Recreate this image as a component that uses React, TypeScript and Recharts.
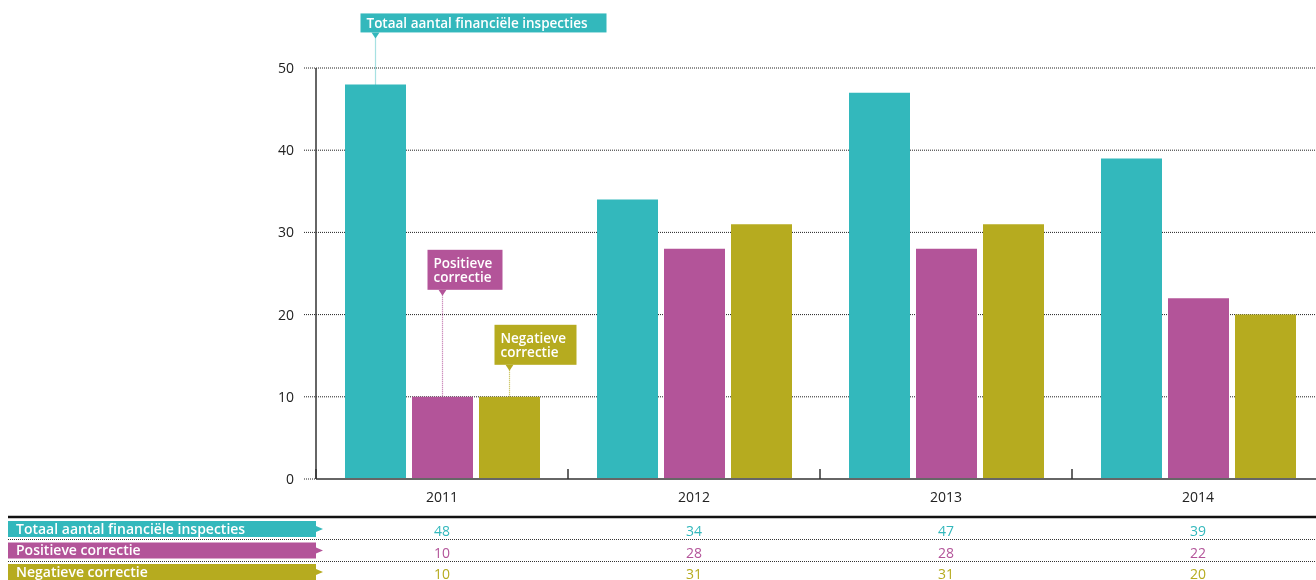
import React from 'react';
import { BarChart, Bar, XAxis, YAxis, CartesianGrid } from 'recharts';

const years = ['2011', '2012', '2013', '2014'];
const totaal = [48, 34, 47, 39];
const positief = [10, 28, 28, 22];
const negatief = [10, 31, 31, 20];
const seriesNames = ['Totaal aantal financiële inspecties', 'Positieve correctie', 'Negatieve correctie'];
const yTicks = [0, 10, 20, 30, 40, 50];

const TEAL = '#33b8bc';
const MAG = '#b35499';
const OLI = '#b6ab1f';
const FONT = '"Open Sans", "Noto Sans", sans-serif';

const data = years.map((y, i) => ({ year: y, totaal: totaal[i], positief: positief[i], negatief: negatief[i] }));

const rows = [totaal, positief, negatief];
const rowColors = [TEAL, MAG, OLI];

const XTick = (props: any) => {
  const { x, y, payload } = props;
  const half = payload && payload.offset ? payload.offset : 126;
  const i = years.indexOf(payload.value);
  return (
    <g>
      <line x1={x - half} x2={x - half} y1={y - 10} y2={y} stroke="#333" strokeWidth={1.5} />
      <text x={x} y={y + 23} textAnchor="middle" fill="#222" fontSize={14} fontFamily={FONT}>{payload.value}</text>
      {i === 0 && (
        <g>
          <line x1={0} x2={1316} y1={y + 38} y2={y + 38} stroke="#111" strokeWidth={2.5} />
          <line x1={0} x2={1316} y1={y + 60.5} y2={y + 60.5} stroke="#333" strokeWidth={1} strokeDasharray="1 1" />
          <line x1={0} x2={1316} y1={y + 82.5} y2={y + 82.5} stroke="#333" strokeWidth={1} strokeDasharray="1 1" />
          {seriesNames.map((name, k) => {
            const top = y + 42 + k * 21.5;
            return (
              <g key={name}>
                <rect x={0} y={top} width={308} height={16} fill={rowColors[k]} />
                <polygon points={`308,${top + 5} 315,${top + 8} 308,${top + 11}`} fill={rowColors[k]} />
                <text x={8} y={top + 12.5} fill="#fff" fontSize={14} fontWeight={600} fontFamily={FONT}>{name}</text>
              </g>
            );
          })}
        </g>
      )}
      {rows.map((r, k) => (
        <text key={k} x={x} y={y + 57 + k * 21.5} textAnchor="middle" fill={rowColors[k]} fontSize={14} fontFamily={FONT}>
          {r[i]}
        </text>
      ))}
    </g>
  );
};

const makeCallout = (color: string, lines: string[], width: number, above: number, height: number) => (props: any) => {
  const { x, y, width: bw, index } = props;
  if (index !== 0) return <g />;
  const cx = x + bw / 2;
  const top = y - above;
  const left = cx - 15;
  const bottom = top + height;
  return (
    <g>
      <line x1={cx} x2={cx} y1={bottom + 5} y2={y} stroke={color} strokeOpacity={0.85} strokeWidth={1.2} strokeDasharray="1 1" />
      <rect x={left} y={top} width={width} height={height} fill={color} />
      <polygon points={`${cx - 4},${bottom} ${cx + 4},${bottom} ${cx},${bottom + 6}`} fill={color} />
      {lines.map((l, k) => (
        <text key={k} x={left + 6} y={top + (lines.length === 1 ? 14.5 : 18 + k * 14.5)} fill="#fff" fontSize={13.5} fontWeight={600} fontFamily={FONT}>
          {l}
        </text>
      ))}
    </g>
  );
};

const tealLabel = makeCallout(TEAL, [seriesNames[0]], 246, 71, 19);
const magLabel = makeCallout(MAG, ['Positieve', 'correctie'], 75, 147, 40);
const oliLabel = makeCallout(OLI, ['Negatieve', 'correctie'], 82, 72, 40);

export default function App() {
  return (
    <div style={{ position: 'fixed', left: 8, top: 8, width: 1308, height: 572, overflow: 'hidden' }}>
      <BarChart
        width={1316}
        height={572}
        data={data}
        margin={{ top: 60, right: 0, left: 248, bottom: 0 }}
        barSize={61}
        barGap={6}
        style={{ fontFamily: FONT }}
      >
        <CartesianGrid vertical={false} stroke="#222" strokeDasharray="1 1" />
        <XAxis
          dataKey="year"
          height={101}
          axisLine={{ stroke: '#666', strokeWidth: 2 }}
          tickLine={false}
          tickSize={0}
          tickMargin={0}
          tick={<XTick />}
          interval={0}
        />
        <YAxis
          width={60}
          domain={[0, 50]}
          ticks={yTicks}
          axisLine={{ stroke: '#333', strokeWidth: 1.5 }}
          tickLine={{ stroke: '#222', strokeDasharray: '1 1' }}
          tickSize={12}
          tickMargin={10}
          tick={{ fill: '#222', fontSize: 14, fontFamily: FONT }}
        />
        <Bar dataKey="totaal" fill={TEAL} isAnimationActive={false} label={tealLabel} />
        <Bar dataKey="positief" fill={MAG} isAnimationActive={false} label={magLabel} />
        <Bar dataKey="negatief" fill={OLI} isAnimationActive={false} label={oliLabel} />
      </BarChart>
    </div>
  );
}
